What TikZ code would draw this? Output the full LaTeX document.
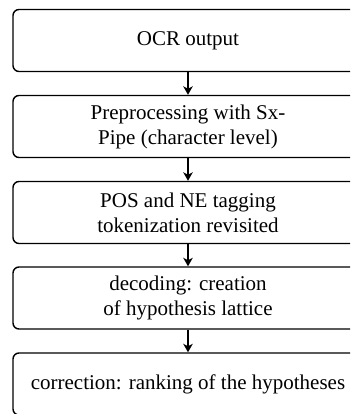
\documentclass[tikz,border=0pt]{standalone}
\usepackage{fontspec}
\setmainfont{Liberation Serif}
\usetikzlibrary{arrows.meta}
\begin{document}
\begin{tikzpicture}[x=1pt,y=-1pt,
  stagebox/.style={draw, line width=1.4pt, rounded corners=6pt, minimum width=350pt, minimum height=62pt, inner sep=0pt, align=center, font=\fontsize{21}{25}\selectfont},
  flow/.style={line width=1.4pt, -{Stealth[length=8.5pt,width=9.5pt,inset=2.5pt]}}]
\useasboundingbox (0,0) rectangle (350,414);
\clip (0,0) rectangle (350,414);
\node[stagebox] (b1) at (188,40.5) {OCR output};
\node[stagebox] (b2) at (188,126.5) {Preprocessing with Sx-\\Pipe (character level)};
\node[stagebox] (b3) at (188,212.5) {POS and NE tagging\\tokenization revisited};
\node[stagebox] (b4) at (188,298) {decoding: creation\\of hypothesis lattice};
\node[stagebox] (b5) at (188,384) {correction: ranking of the hypotheses};
\draw[flow] (b1.south) -- (b2.north);
\draw[flow] (b2.south) -- (b3.north);
\draw[flow] (b3.south) -- (b4.north);
\draw[flow] (b4.south) -- (b5.north);
\end{tikzpicture}
\end{document}
